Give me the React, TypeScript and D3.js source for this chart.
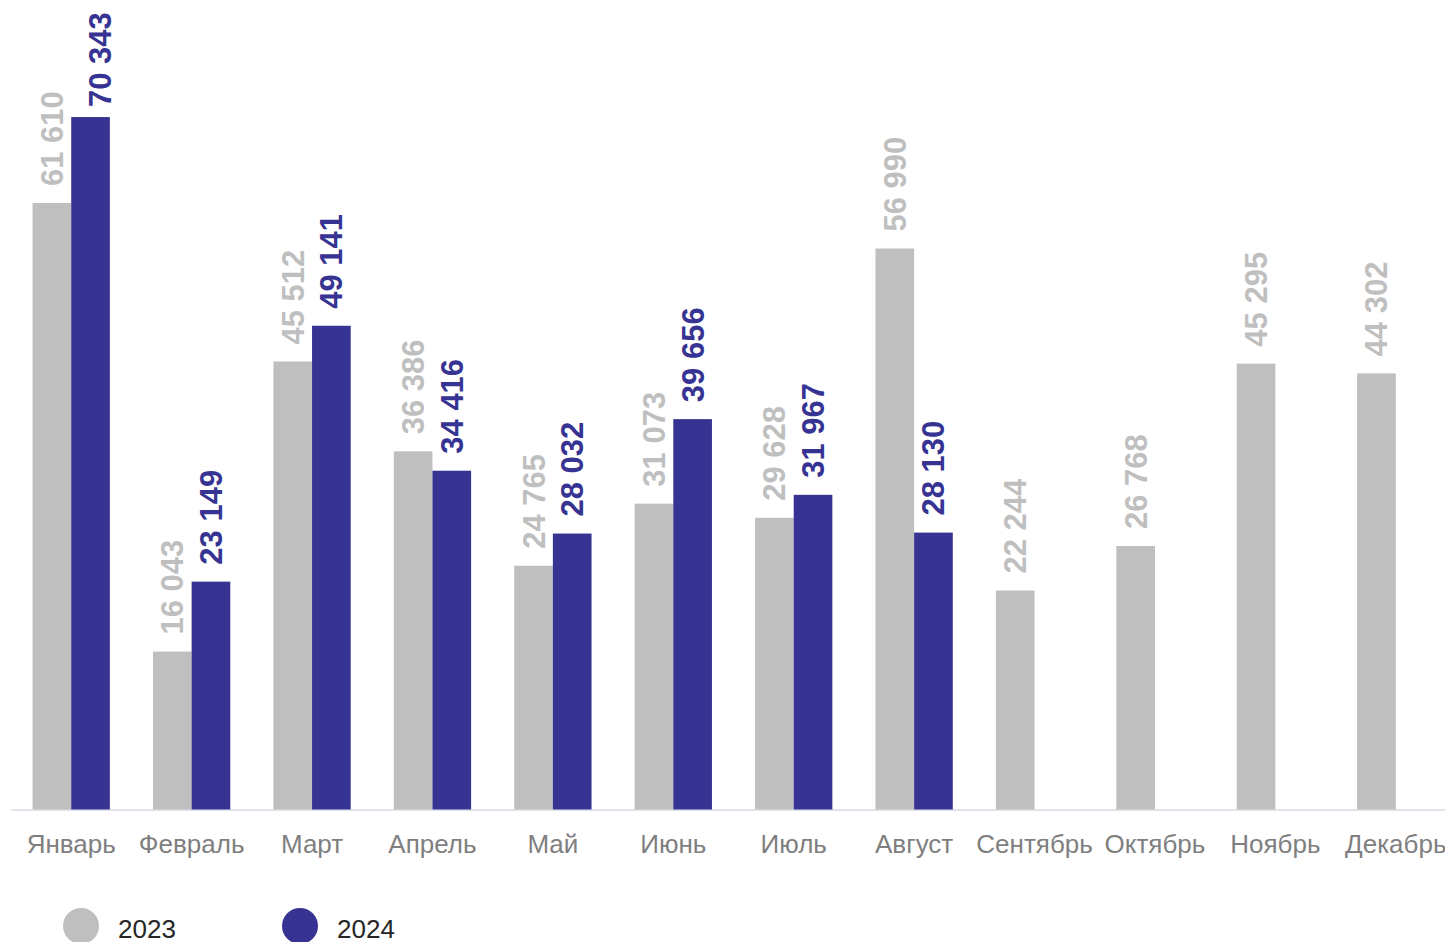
import React, { useEffect, useRef } from "react";
import * as d3 from "d3";

const months = [
  "Январь", "Февраль", "Март", "Апрель", "Май", "Июнь",
  "Июль", "Август", "Сентябрь", "Октябрь", "Ноябрь", "Декабрь",
];
const seriesNames = ["2023", "2024"];
const values2023 = [61610, 16043, 45512, 36386, 24765, 31073, 29628, 56990, 22244, 26768, 45295, 44302];
const values2024 = [70343, 23149, 49141, 34416, 28032, 39656, 31967, 28130];
const colors = ["#bfbfbf", "#373393"];

export default function App() {
  const svgRef = useRef<SVGSVGElement>(null);

  useEffect(() => {
    const width = 1445;
    const height = 942;
    const baseY = 809.5;

    const svg = d3.select(svgRef.current);
    svg.selectAll("*").remove();
    svg.attr("width", width).attr("height", height);

    const fmt = d3.formatLocale({
      decimal: ",",
      thousands: " ",
      grouping: [3],
      currency: ["", ""],
    }).format(",d");

    // scales
    const x = d3.scaleBand<string>()
      .domain(months)
      .range([11, 1456])
      .paddingInner(0.358)
      .paddingOuter(0.179);
    const xSub = d3.scaleBand<string>()
      .domain(seriesNames)
      .range([0, x.bandwidth()]);
    const y = d3.scaleLinear().domain([0, 80000]).range([baseY, 22]);

    const data = seriesNames.map((name, si) => ({
      name,
      color: colors[si],
      values: (si === 0 ? values2023 : values2024).map((v, i) => ({ month: months[i], value: v })),
    }));

    // axis
    const axis = svg.append("g")
      .attr("transform", `translate(0,${baseY})`)
      .call(d3.axisBottom(x).tickSize(0).tickSizeOuter(0).tickPadding(25));
    axis.select(".domain").attr("stroke", "#d9d9e3").attr("stroke-width", 1.5);
    axis.selectAll("text")
      .attr("fill", "#7f7f7f")
      .style("font-family", "Liberation Sans, Arial, sans-serif")
      .style("font-size", "26px");

    // bars + labels
    data.forEach((s) => {
      const g = svg.append("g");
      g.selectAll("rect")
        .data(s.values)
        .join("rect")
        .attr("x", (d) => (x(d.month) as number) + (xSub(s.name) as number))
        .attr("y", (d) => y(d.value))
        .attr("width", xSub.bandwidth())
        .attr("height", (d) => baseY - y(d.value))
        .attr("fill", s.color);

      g.selectAll("text")
        .data(s.values)
        .join("text")
        .attr("transform", (d) => {
          const cx = (x(d.month) as number) + (xSub(s.name) as number) + xSub.bandwidth() / 2;
          const want = y(d.value) - 17;
          // label pushed down (and aside) when it would run off the top
          const ty = Math.max(want, 107);
          const shift = want < 107 ? 9 : 0;
          return `translate(${cx + 11 + shift},${ty}) rotate(-90)`;
        })
        .attr("text-anchor", "start")
        .attr("fill", s.color)
        .style("font-family", "Liberation Sans, Arial, sans-serif")
        .style("font-size", "31px")
        .style("font-weight", "bold")
        .text((d) => fmt(d.value));
    });

    // legend
    const legend = svg.append("g");
    const legendX = [81, 300];
    data.forEach((s, i) => {
      legend.append("circle")
        .attr("cx", legendX[i])
        .attr("cy", 926)
        .attr("r", 18)
        .attr("fill", s.color);
      legend.append("text")
        .attr("x", legendX[i] + 37)
        .attr("y", 938)
        .attr("fill", "#262626")
        .style("font-family", "Liberation Sans, Arial, sans-serif")
        .style("font-size", "26px")
        .text(s.name);
    });
  }, []);

  return (
    <div style={{ position: "absolute", left: 0, top: 0, width: 1445, height: 942, overflow: "hidden", background: "#fff" }}>
      <svg ref={svgRef} style={{ display: "block" }} />
    </div>
  );
}
